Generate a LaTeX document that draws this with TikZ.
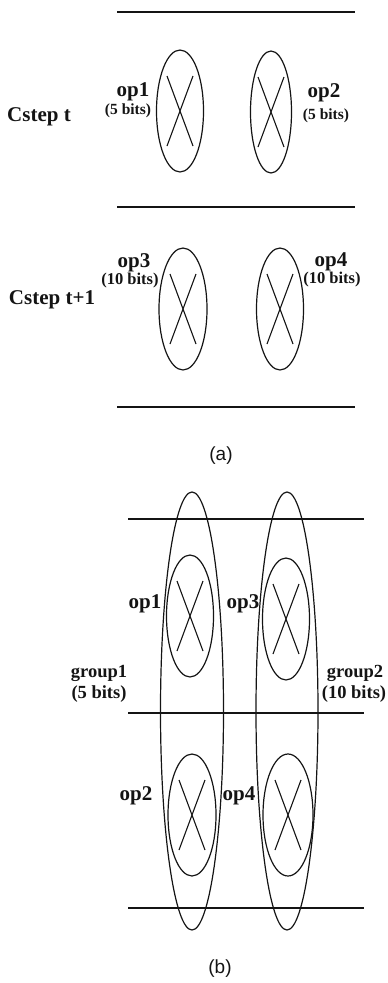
\documentclass[tikz,border=0pt]{standalone}
\usepackage{fontspec}
\setmainfont{Liberation Serif}
\setsansfont{Liberation Sans}
\usepackage{xcolor}
\definecolor{ink}{RGB}{20,20,20}
\usepackage{tikz}
\usetikzlibrary{shapes.geometric}
\tikzset{
  %% ellipse with a cross: one operation
  opnode/.style={draw=ink, line width=1.2pt, ellipse, inner sep=0pt,
    minimum width=47pt, minimum height=122pt,
    path picture={
      \draw[ink, line width=1.1pt]
        ([shift={(-13pt,-35pt)}]path picture bounding box.center) --
        ([shift={(13pt,35pt)}]path picture bounding box.center)
        ([shift={(13pt,-35pt)}]path picture bounding box.center) --
        ([shift={(-13pt,35pt)}]path picture bounding box.center);}},
  %% tall ellipse: one group of operations
  groupnode/.style={draw=ink, line width=1.2pt, ellipse, inner sep=0pt,
    minimum width=63pt, minimum height=438pt},
  rule/.style={draw=ink, line width=1.4pt},
  lbl/.style={anchor=base, inner sep=0pt, text=ink,
    font=\fontsize{21}{25}\selectfont\bfseries},
  glbl/.style={lbl, font=\fontsize{18.5}{22}\selectfont\bfseries},
  bits/.style={lbl, font=\fontsize{15.5}{18}\selectfont\bfseries},
  figcap/.style={anchor=base, inner sep=0pt, text=ink,
    font=\sffamily\fontsize{19}{22}\selectfont},
}
\begin{document}
\begin{tikzpicture}[x=1pt,y=-1pt]
\useasboundingbox (0,0) rectangle (388,983);

%% (a): two control steps
\foreach \yy in {12,207,407}
  \draw[rule] (117,\yy) -- (355,\yy);
\node[opnode] (opa1) at (180,111) {};
\node[opnode, minimum width=41pt] (opa2) at (271,112) {};
\node[opnode, minimum width=48pt] (opa3) at (183,309) {};
\node[opnode] (opa4) at (280,309) {};
\node[lbl] (cstept) at (39,121) {Cstep t};
\node[lbl] (cstepu) at (52,304) {Cstep t+1};
\node[lbl] (lopa1) at (133,96) {op1};
\node[bits] (bopa1) at (128,114) {(5 bits)};
\node[lbl] (lopa2) at (324,97) {op2};
\node[bits] (bopa2) at (326,119) {(5 bits)};
\node[lbl] (lopa3) at (134,267) {op3};
\node[bits, font=\fontsize{16.5}{19}\selectfont\bfseries] (bopa3) at (130,284) {(10 bits)};
\node[lbl] (lopa4) at (331,266) {op4};
\node[bits, font=\fontsize{16.5}{19}\selectfont\bfseries] (bopa4) at (332,283) {(10 bits)};
\node[figcap] (capa) at (221,460) {(a)};

%% (b): operations grouped by width
\foreach \yy in {519,713,908}
  \draw[rule] (128,\yy) -- (364,\yy);
\node[groupnode] (grp1) at (192,711) {};
\node[groupnode, minimum width=62pt] (grp2) at (287,711) {};
\node[opnode] (opb1) at (190,616) {};
\node[opnode] (opb3) at (286,619) {};
\node[opnode, minimum width=48pt] (opb2) at (192,815) {};
\node[opnode, minimum width=50pt] (opb4) at (288,815) {};
\node[lbl] (lopb1) at (145,608) {op1};
\node[lbl] (lopb3) at (243,608) {op3};
\node[lbl] (lopb2) at (136,800) {op2};
\node[lbl] (lopb4) at (239,800) {op4};
\node[glbl] (lgrp1) at (99,677) {group1};
\node[glbl] (bgrp1) at (99,698) {(5 bits)};
\node[glbl] (lgrp2) at (355,677) {group2};
\node[glbl] (bgrp2) at (354,698) {(10 bits)};
\node[figcap] (capb) at (220,973) {(b)};
\end{tikzpicture}
\end{document}
